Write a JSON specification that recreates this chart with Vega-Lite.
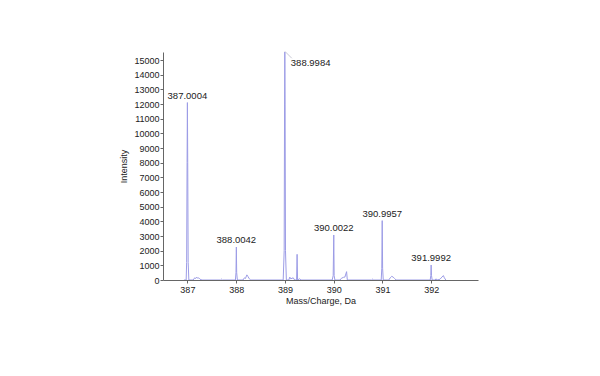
{
  "$schema": "https://vega.github.io/schema/vega-lite/v6.json",
  "width": 315,
  "height": 228,
  "autosize": "none",
  "padding": {"left": 163, "top": 52, "right": 122, "bottom": 96},
  "background": "white",
  "config": {
    "view": {"stroke": null},
    "font": "Liberation Sans",
    "axis": {
      "grid": false,
      "labelFont": "Liberation Sans",
      "titleFont": "Liberation Sans",
      "labelFontSize": 9,
      "titleFontSize": 9,
      "titleFontWeight": "normal",
      "labelColor": "#222",
      "titleColor": "#222",
      "domainColor": "#666",
      "tickColor": "#666",
      "tickSize": 3,
      "labelOverlap": false,
      "labelBound": false,
      "labelFlush": false
    }
  },
  "datasets": {
    "trace": [
      {"mz": 386.93, "intensity": 0},
      {"mz": 386.975, "intensity": 0},
      {"mz": 386.985, "intensity": 1200},
      {"mz": 386.994, "intensity": 8000},
      {"mz": 387.0004, "intensity": 12100},
      {"mz": 387.007, "intensity": 8000},
      {"mz": 387.016, "intensity": 1200},
      {"mz": 387.03, "intensity": 0},
      {"mz": 387.12, "intensity": 0},
      {"mz": 387.15, "intensity": 150},
      {"mz": 387.17, "intensity": 100},
      {"mz": 387.19, "intensity": 200},
      {"mz": 387.21, "intensity": 120},
      {"mz": 387.23, "intensity": 150},
      {"mz": 387.26, "intensity": 50},
      {"mz": 387.3, "intensity": 0},
      {"mz": 387.68, "intensity": 0},
      {"mz": 387.7, "intensity": 60},
      {"mz": 387.72, "intensity": 0},
      {"mz": 387.985, "intensity": 0},
      {"mz": 387.997, "intensity": 500},
      {"mz": 388.0042, "intensity": 2250},
      {"mz": 388.011, "intensity": 500},
      {"mz": 388.025, "intensity": 0},
      {"mz": 388.14, "intensity": 0},
      {"mz": 388.17, "intensity": 150},
      {"mz": 388.19, "intensity": 100},
      {"mz": 388.22, "intensity": 350},
      {"mz": 388.24, "intensity": 250},
      {"mz": 388.27, "intensity": 80},
      {"mz": 388.3, "intensity": 0},
      {"mz": 388.965, "intensity": 0},
      {"mz": 388.985, "intensity": 2000},
      {"mz": 388.993, "intensity": 12000},
      {"mz": 388.9984, "intensity": 15600},
      {"mz": 389.004, "intensity": 12000},
      {"mz": 389.012, "intensity": 2000},
      {"mz": 389.03, "intensity": 0},
      {"mz": 389.08, "intensity": 0},
      {"mz": 389.1, "intensity": 200},
      {"mz": 389.12, "intensity": 80},
      {"mz": 389.17, "intensity": 150},
      {"mz": 389.2, "intensity": 0},
      {"mz": 389.24, "intensity": 0},
      {"mz": 389.25, "intensity": 1750},
      {"mz": 389.26, "intensity": 0},
      {"mz": 389.3, "intensity": 80},
      {"mz": 389.33, "intensity": 0},
      {"mz": 389.97, "intensity": 0},
      {"mz": 389.99, "intensity": 300},
      {"mz": 390.0022, "intensity": 3070},
      {"mz": 390.01, "intensity": 300},
      {"mz": 390.025, "intensity": 0},
      {"mz": 390.13, "intensity": 0},
      {"mz": 390.16, "intensity": 120},
      {"mz": 390.2, "intensity": 180},
      {"mz": 390.23, "intensity": 200},
      {"mz": 390.265, "intensity": 570},
      {"mz": 390.28, "intensity": 0},
      {"mz": 390.78, "intensity": 0},
      {"mz": 390.8, "intensity": 60},
      {"mz": 390.82, "intensity": 0},
      {"mz": 390.975, "intensity": 0},
      {"mz": 390.987, "intensity": 800},
      {"mz": 390.9957, "intensity": 4050},
      {"mz": 391.004, "intensity": 800},
      {"mz": 391.017, "intensity": 0},
      {"mz": 391.13, "intensity": 0},
      {"mz": 391.16, "intensity": 150},
      {"mz": 391.19, "intensity": 250},
      {"mz": 391.22, "intensity": 200},
      {"mz": 391.25, "intensity": 100},
      {"mz": 391.28, "intensity": 0},
      {"mz": 391.98, "intensity": 0},
      {"mz": 391.992, "intensity": 300},
      {"mz": 391.9992, "intensity": 1020},
      {"mz": 392.007, "intensity": 300},
      {"mz": 392.02, "intensity": 0},
      {"mz": 392.08, "intensity": 0},
      {"mz": 392.1, "intensity": 80},
      {"mz": 392.12, "intensity": 0},
      {"mz": 392.18, "intensity": 50},
      {"mz": 392.22, "intensity": 200},
      {"mz": 392.25, "intensity": 300},
      {"mz": 392.27, "intensity": 150},
      {"mz": 392.3, "intensity": 0}
    ],
    "peaks": [
      {"mz": 387.0004, "intensity": 12100, "label": "387.0004", "main": false},
      {"mz": 388.0042, "intensity": 2250, "label": "388.0042", "main": false},
      {"mz": 388.9984, "intensity": 15600, "label": "388.9984", "main": true},
      {"mz": 390.0022, "intensity": 3070, "label": "390.0022", "main": false},
      {"mz": 390.9957, "intensity": 4050, "label": "390.9957", "main": false},
      {"mz": 391.9992, "intensity": 1020, "label": "391.9992", "main": false}
    ]
  },
  "encoding": {
    "x": {
      "field": "mz",
      "type": "quantitative",
      "scale": {"domain": [386.5, 392.96], "nice": false, "zero": false},
      "axis": {
        "values": [387, 388, 389, 390, 391, 392],
        "format": "d",
        "title": "Mass/Charge, Da",
        "labelPadding": 2,
        "titlePadding": 2
      }
    },
    "y": {
      "field": "intensity",
      "type": "quantitative",
      "scale": {"domain": [0, 15550], "nice": false},
      "axis": {
        "values": [0, 1000, 2000, 3000, 4000, 5000, 6000, 7000, 8000, 9000, 10000, 11000, 12000, 13000, 14000, 15000],
        "format": "d",
        "title": "Intensity",
        "labelPadding": 1,
        "titlePadding": 5,
        "labelOverlap": false
      }
    }
  },
  "layer": [
    {
      "data": {"name": "trace"},
      "mark": {"type": "line", "color": "#9c9ce6", "strokeWidth": 1, "clip": true}
    },
    {
      "data": {"name": "peaks"},
      "transform": [{"filter": "!datum.main"}],
      "mark": {"type": "text", "baseline": "bottom", "align": "center", "dy": -2, "fontSize": 9.5, "font": "Liberation Sans", "color": "#222"},
      "encoding": {
        "text": {"field": "label"}
      }
    },
    {
      "data": {"name": "peaks"},
      "transform": [{"filter": "datum.main"}],
      "mark": {"type": "rule", "color": "#bbbbcc", "strokeWidth": 0.8, "x2Offset": 7, "y2Offset": 7},
      "encoding": {
        "x2": {"field": "mz"},
        "y2": {"field": "intensity"}
      }
    },
    {
      "data": {"name": "peaks"},
      "transform": [{"filter": "datum.main"}],
      "mark": {"type": "text", "baseline": "alphabetic", "align": "left", "dx": 6, "dy": 15, "fontSize": 9.5, "font": "Liberation Sans", "color": "#222"},
      "encoding": {
        "text": {"field": "label"}
      }
    }
  ]
}
